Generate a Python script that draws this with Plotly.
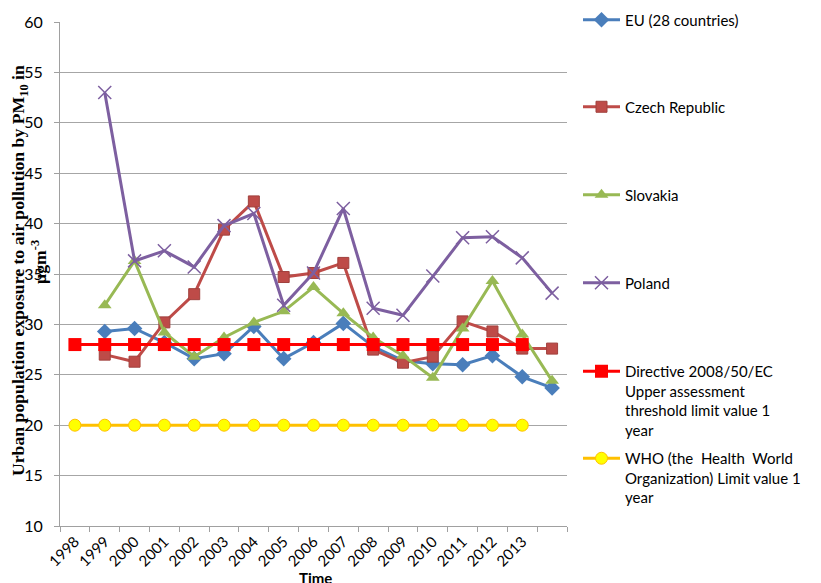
import plotly.graph_objects as go

# Categories
line_years = [1998, 1999, 2000, 2001, 2002, 2003, 2004, 2005, 2006, 2007, 2008, 2009, 2010, 2011, 2012, 2013]
country_years = [1999, 2000, 2001, 2002, 2003, 2004, 2005, 2006, 2007, 2008, 2009, 2010, 2011, 2012, 2013, 2014]
tick_years = [1998, 1999, 2000, 2001, 2002, 2003, 2004, 2005, 2006, 2007, 2008, 2009, 2010, 2011, 2012, 2013]
tick_labels = [str(y) for y in tick_years]

# Series values
eu = [29.3, 29.6, 28.2, 26.6, 27.1, 29.8, 26.6, 28.2, 30.1, 27.8, 26.4, 26.1, 26.0, 26.9, 24.8, 23.7]
czech = [27.0, 26.3, 30.2, 33.0, 39.4, 42.2, 34.7, 35.1, 36.1, 27.5, 26.2, 26.8, 30.3, 29.3, 27.6, 27.6]
slovakia = [31.9, 36.3, 29.2, 26.8, 28.7, 30.2, 31.3, 33.7, 31.1, 28.7, 26.9, 24.7, 29.6, 34.3, 29.0, 24.4]
poland = [53.0, 36.3, 37.3, 35.7, 39.8, 41.0, 31.9, 35.1, 41.5, 31.6, 30.9, 34.8, 38.6, 38.7, 36.6, 33.1]
directive = [28] * 16
who = [20] * 16

names = ["EU (28 countries)", "Czech Republic", "Slovakia", "Poland",
         "Directive 2008/50/EC<br>Upper assessment<br>threshold limit value 1<br>year",
         "WHO (the  Health  World<br>Organization) Limit value 1<br>year"]

FONT = "Lato, 'Open Sans', sans-serif"
SERIF = "'Liberation Serif', 'Times New Roman', serif"

# page offset of the figure (default body margin)
OFF = 8
W, H = 821 - OFF, 583 - OFF
plot_left, plot_top, plot_right, plot_bottom = 60 - OFF, 22 - OFF, 567 - OFF, 526 - OFF
plot_w = plot_right - plot_left
plot_h = plot_bottom - plot_top


def py(page_y):
    return (plot_bottom - (page_y - OFF)) / plot_h


def px(page_x):
    return ((page_x - OFF) - plot_left) / plot_w


fig = go.Figure()

fig.add_trace(go.Scatter(x=country_years, y=eu, name=names[0], mode="lines+markers",
                         line=dict(color="#4A7EBB", width=3),
                         marker=dict(symbol="diamond", size=12, color="#4A7EBB"),
                         legend="legend"))
fig.add_trace(go.Scatter(x=country_years, y=czech, name=names[1], mode="lines+markers",
                         line=dict(color="#BE4B48", width=3),
                         marker=dict(symbol="square", size=11, color="#BE4B48",
                                     line=dict(color="#A0403D", width=1)),
                         legend="legend2"))
fig.add_trace(go.Scatter(x=country_years, y=slovakia, name=names[2], mode="lines+markers",
                         line=dict(color="#98B954", width=3),
                         marker=dict(symbol="triangle-up", size=12, color="#98B954"),
                         legend="legend3"))
fig.add_trace(go.Scatter(x=country_years, y=poland, name=names[3], mode="lines+markers",
                         line=dict(color="#7D5FA0", width=3),
                         marker=dict(symbol="x-thin", size=13, color="#7D5FA0",
                                     line=dict(color="#7D5FA0", width=1.5)),
                         legend="legend4"))
fig.add_trace(go.Scatter(x=line_years, y=directive, name=names[4], mode="lines+markers",
                         line=dict(color="#FF0000", width=3),
                         marker=dict(symbol="square", size=13, color="#FF0000"),
                         legend="legend5"))
fig.add_trace(go.Scatter(x=line_years, y=who, name=names[5], mode="lines+markers",
                         line=dict(color="#FFC000", width=3),
                         marker=dict(symbol="circle", size=12, color="#FFFF00",
                                     line=dict(color="#FFC000", width=1)),
                         legend="legend6"))

# legend first-line text centres (page px) and the offset from legend top
legend_centres = [20, 107, 195, 283, 370, 458]
legend_offsets = [16.5, 16.5, 16.5, 16.5, 15, 16]
common_leg = dict(x=px(578), xanchor="left", yanchor="top", bgcolor="rgba(0,0,0,0)",
                  font=dict(family=FONT, size=15, color="#000000"), valign="top",
                  itemwidth=37)
layout_legends = {}
for i, (c, o) in enumerate(zip(legend_centres, legend_offsets)):
    key = "legend" if i == 0 else f"legend{i+1}"
    layout_legends[key] = dict(common_leg, y=py(c - o))

fig.update_layout(
    width=W, height=H,
    margin=dict(l=plot_left, r=W - plot_right, t=plot_top, b=H - plot_bottom, autoexpand=False),
    paper_bgcolor="white", plot_bgcolor="white",
    showlegend=True,
    **layout_legends,
    xaxis=dict(range=[1997.5, 2014.5], tickvals=tick_years, ticktext=tick_labels,
               tickangle=-45, ticks="", showgrid=False, zeroline=False,
               showline=True, linecolor="#A0A0A0", linewidth=1,
               tickfont=dict(family=FONT, size=15, color="#000000"),
               minor=dict(ticks="outside", ticklen=5, tickcolor="#A0A0A0",
                          tick0=1997.5, dtick=1, showgrid=False)),
    yaxis=dict(range=[10, 60], dtick=5, tick0=10, showgrid=True, gridcolor="#A6A6A6",
               gridwidth=1, zeroline=False, showline=True, linecolor="#A0A0A0",
               linewidth=1, ticks="outside", ticklen=5, tickcolor="#A0A0A0",
               ticklabelstandoff=8,
               tickfont=dict(family=FONT, size=16, color="#000000")),
    annotations=[
        dict(text="<b>Urban population exposure to air pollution by PM<sub>10</sub> in</b>",
             xref="paper", yref="paper", x=px(19), y=py(271), xanchor="center", yanchor="middle",
             textangle=-90, showarrow=False,
             font=dict(family=SERIF, size=17.7, color="#000000")),
        dict(text="<b>µgm<sup>-3</sup></b>",
             xref="paper", yref="paper", x=px(39), y=py(262), xanchor="center", yanchor="middle",
             textangle=-90, showarrow=False,
             font=dict(family=SERIF, size=17.7, color="#000000")),
        dict(text="<b>Time</b>", xref="paper", yref="paper", x=px(315),
             y=py(567), xanchor="center", yanchor="top",
             showarrow=False, font=dict(family=FONT, size=15, color="#000000")),
    ],
)

fig.write_html("out.html")
